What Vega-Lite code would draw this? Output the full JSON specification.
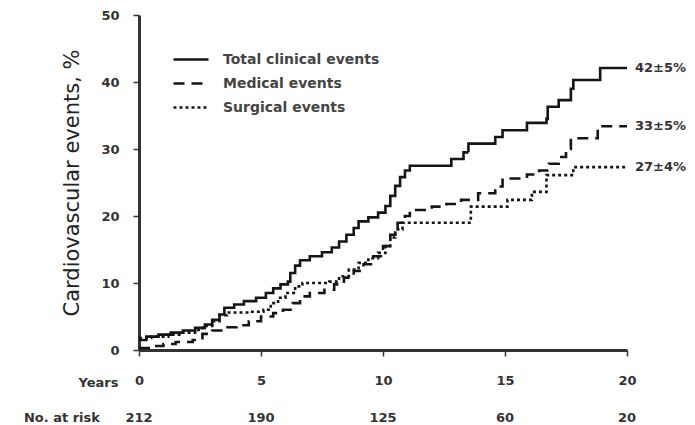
{
  "$schema": "https://vega.github.io/schema/vega-lite/v6.json",
  "width": 488,
  "height": 335,
  "autosize": "none",
  "padding": {"left": 139, "top": 15, "right": 68, "bottom": 75},
  "config": {"view": {"stroke": null}, "font": "DejaVu Sans"},
  "datasets": {
    "curves": [
      {"series": "Total clinical  events", "year": 0, "pct": 1.5},
      {"series": "Total clinical  events", "year": 0.3, "pct": 2.0},
      {"series": "Total clinical  events", "year": 0.8, "pct": 2.3},
      {"series": "Total clinical  events", "year": 1.3, "pct": 2.6},
      {"series": "Total clinical  events", "year": 1.8, "pct": 2.9},
      {"series": "Total clinical  events", "year": 2.3, "pct": 3.3},
      {"series": "Total clinical  events", "year": 2.7, "pct": 3.8},
      {"series": "Total clinical  events", "year": 3.0, "pct": 4.5},
      {"series": "Total clinical  events", "year": 3.3, "pct": 5.3},
      {"series": "Total clinical  events", "year": 3.5, "pct": 6.3},
      {"series": "Total clinical  events", "year": 3.9, "pct": 6.8},
      {"series": "Total clinical  events", "year": 4.3, "pct": 7.3},
      {"series": "Total clinical  events", "year": 4.8, "pct": 7.8},
      {"series": "Total clinical  events", "year": 5.2, "pct": 8.5},
      {"series": "Total clinical  events", "year": 5.5, "pct": 9.2},
      {"series": "Total clinical  events", "year": 5.8, "pct": 9.8},
      {"series": "Total clinical  events", "year": 6.1, "pct": 10.2},
      {"series": "Total clinical  events", "year": 6.2, "pct": 11.5},
      {"series": "Total clinical  events", "year": 6.4, "pct": 12.6},
      {"series": "Total clinical  events", "year": 6.6, "pct": 13.4},
      {"series": "Total clinical  events", "year": 7.0, "pct": 14.0},
      {"series": "Total clinical  events", "year": 7.5, "pct": 14.6},
      {"series": "Total clinical  events", "year": 7.9, "pct": 15.3},
      {"series": "Total clinical  events", "year": 8.2, "pct": 16.2},
      {"series": "Total clinical  events", "year": 8.5, "pct": 17.2},
      {"series": "Total clinical  events", "year": 8.8, "pct": 18.2},
      {"series": "Total clinical  events", "year": 9.0, "pct": 19.2},
      {"series": "Total clinical  events", "year": 9.4, "pct": 19.8},
      {"series": "Total clinical  events", "year": 9.8, "pct": 20.5},
      {"series": "Total clinical  events", "year": 10.1, "pct": 21.5},
      {"series": "Total clinical  events", "year": 10.3, "pct": 23.0},
      {"series": "Total clinical  events", "year": 10.5, "pct": 24.5},
      {"series": "Total clinical  events", "year": 10.7, "pct": 25.8},
      {"series": "Total clinical  events", "year": 10.9, "pct": 26.8},
      {"series": "Total clinical  events", "year": 11.1, "pct": 27.5},
      {"series": "Total clinical  events", "year": 12.8, "pct": 28.5},
      {"series": "Total clinical  events", "year": 13.3, "pct": 29.5},
      {"series": "Total clinical  events", "year": 13.5, "pct": 30.8},
      {"series": "Total clinical  events", "year": 14.6, "pct": 31.8},
      {"series": "Total clinical  events", "year": 14.9, "pct": 32.8},
      {"series": "Total clinical  events", "year": 15.9, "pct": 33.9},
      {"series": "Total clinical  events", "year": 16.7, "pct": 34.5},
      {"series": "Total clinical  events", "year": 16.75, "pct": 36.3},
      {"series": "Total clinical  events", "year": 17.2, "pct": 37.3},
      {"series": "Total clinical  events", "year": 17.7, "pct": 39.0},
      {"series": "Total clinical  events", "year": 17.8, "pct": 40.3},
      {"series": "Total clinical  events", "year": 18.9, "pct": 42.1},
      {"series": "Total clinical  events", "year": 20, "pct": 42.1},
      {"series": "Medical events", "year": 0, "pct": 0.3},
      {"series": "Medical events", "year": 0.5, "pct": 0.6},
      {"series": "Medical events", "year": 1.0, "pct": 0.9},
      {"series": "Medical events", "year": 1.5, "pct": 1.2},
      {"series": "Medical events", "year": 2.2, "pct": 1.5},
      {"series": "Medical events", "year": 2.6, "pct": 2.4},
      {"series": "Medical events", "year": 3.0, "pct": 2.9},
      {"series": "Medical events", "year": 3.5, "pct": 3.4},
      {"series": "Medical events", "year": 4.0, "pct": 3.7},
      {"series": "Medical events", "year": 4.5, "pct": 4.3},
      {"series": "Medical events", "year": 5.0, "pct": 5.0},
      {"series": "Medical events", "year": 5.5, "pct": 5.5},
      {"series": "Medical events", "year": 5.9, "pct": 6.0},
      {"series": "Medical events", "year": 6.3, "pct": 7.0},
      {"series": "Medical events", "year": 6.6, "pct": 8.0},
      {"series": "Medical events", "year": 7.0, "pct": 8.5},
      {"series": "Medical events", "year": 7.6, "pct": 9.0},
      {"series": "Medical events", "year": 8.0, "pct": 9.8},
      {"series": "Medical events", "year": 8.4, "pct": 10.8},
      {"series": "Medical events", "year": 8.8, "pct": 11.8},
      {"series": "Medical events", "year": 9.2, "pct": 12.8},
      {"series": "Medical events", "year": 9.6, "pct": 14.0},
      {"series": "Medical events", "year": 10.0, "pct": 15.5},
      {"series": "Medical events", "year": 10.3, "pct": 17.2},
      {"series": "Medical events", "year": 10.6, "pct": 19.0},
      {"series": "Medical events", "year": 10.9, "pct": 20.0},
      {"series": "Medical events", "year": 11.1, "pct": 20.9},
      {"series": "Medical events", "year": 12.0, "pct": 21.4},
      {"series": "Medical events", "year": 12.6, "pct": 21.8},
      {"series": "Medical events", "year": 13.2, "pct": 22.4},
      {"series": "Medical events", "year": 13.9, "pct": 23.4},
      {"series": "Medical events", "year": 14.6, "pct": 24.4},
      {"series": "Medical events", "year": 14.9, "pct": 25.6},
      {"series": "Medical events", "year": 15.9, "pct": 26.2},
      {"series": "Medical events", "year": 16.4, "pct": 26.8},
      {"series": "Medical events", "year": 16.8, "pct": 27.8},
      {"series": "Medical events", "year": 17.2, "pct": 28.8},
      {"series": "Medical events", "year": 17.5, "pct": 30.0},
      {"series": "Medical events", "year": 17.7, "pct": 31.6},
      {"series": "Medical events", "year": 18.8, "pct": 33.4},
      {"series": "Medical events", "year": 20, "pct": 33.4},
      {"series": "Surgical events", "year": 0, "pct": 1.8},
      {"series": "Surgical events", "year": 0.5, "pct": 2.0},
      {"series": "Surgical events", "year": 1.2, "pct": 2.3},
      {"series": "Surgical events", "year": 1.8, "pct": 2.6},
      {"series": "Surgical events", "year": 2.3, "pct": 3.0},
      {"series": "Surgical events", "year": 2.6, "pct": 3.6},
      {"series": "Surgical events", "year": 3.0, "pct": 4.3},
      {"series": "Surgical events", "year": 3.3, "pct": 5.2},
      {"series": "Surgical events", "year": 3.6, "pct": 5.6},
      {"series": "Surgical events", "year": 4.5, "pct": 5.7},
      {"series": "Surgical events", "year": 5.1, "pct": 6.0},
      {"series": "Surgical events", "year": 5.4, "pct": 7.0},
      {"series": "Surgical events", "year": 5.7, "pct": 7.8},
      {"series": "Surgical events", "year": 6.0, "pct": 8.5},
      {"series": "Surgical events", "year": 6.4, "pct": 9.5},
      {"series": "Surgical events", "year": 6.7, "pct": 10.0},
      {"series": "Surgical events", "year": 7.8, "pct": 10.2},
      {"series": "Surgical events", "year": 8.2, "pct": 11.0},
      {"series": "Surgical events", "year": 8.6, "pct": 12.0},
      {"series": "Surgical events", "year": 9.0, "pct": 13.0},
      {"series": "Surgical events", "year": 9.4, "pct": 13.7},
      {"series": "Surgical events", "year": 9.8, "pct": 14.5},
      {"series": "Surgical events", "year": 10.1, "pct": 15.5},
      {"series": "Surgical events", "year": 10.3, "pct": 16.8},
      {"series": "Surgical events", "year": 10.5, "pct": 18.0},
      {"series": "Surgical events", "year": 10.8, "pct": 19.0},
      {"series": "Surgical events", "year": 13.6, "pct": 21.4},
      {"series": "Surgical events", "year": 15.1, "pct": 22.4},
      {"series": "Surgical events", "year": 16.1, "pct": 23.6},
      {"series": "Surgical events", "year": 16.7, "pct": 26.1},
      {"series": "Surgical events", "year": 17.8, "pct": 27.3},
      {"series": "Surgical events", "year": 20, "pct": 27.3}
    ],
    "ends": [
      {"year": 20, "pct": 42.1, "label": "42±5%"},
      {"year": 20, "pct": 33.4, "label": "33±5%"},
      {"year": 20, "pct": 27.3, "label": "27±4%"}
    ],
    "risk": [
      {"year": 0, "n": "212"},
      {"year": 5, "n": "190"},
      {"year": 10, "n": "125"},
      {"year": 15, "n": "60"},
      {"year": 20, "n": "20"}
    ]
  },
  "layer": [
    {
      "data": {"name": "curves"},
      "mark": {"type": "line", "interpolate": "step-after", "strokeCap": "butt", "color": "#151515", "strokeWidth": 2.6},
      "encoding": {
        "x": {
          "field": "year", "type": "quantitative",
          "scale": {"domain": [0, 20], "nice": false},
          "axis": {
            "values": [0, 5, 10, 15, 20], "grid": false,
            "domainColor": "#333", "domainWidth": 3, "tickColor": "#333", "tickWidth": 1.5, "tickSize": 6,
            "labelFont": "DejaVu Sans", "labelFontSize": 13, "labelFontWeight": "bold", "labelColor": "#333",
            "labelPadding": 18, "labelFlush": false,
            "title": "Years", "titleFont": "DejaVu Sans", "titleFontSize": 13, "titleFontWeight": "bold", "titleColor": "#333",
            "titleAnchor": "start", "titleAlign": "right", "titleX": -21, "titleY": 32, "titleBaseline": "middle"
          }
        },
        "y": {
          "field": "pct", "type": "quantitative",
          "scale": {"domain": [0, 50], "nice": false},
          "axis": {
            "values": [0, 10, 20, 30, 40, 50], "grid": false,
            "domainColor": "#333", "domainWidth": 3, "tickColor": "#333", "tickWidth": 1.5, "tickSize": 6,
            "labelFont": "DejaVu Sans", "labelFontSize": 13, "labelFontWeight": "bold", "labelColor": "#333",
            "labelPadding": 14,
            "title": "Cardiovascular events, %", "titleFont": "DejaVu Sans", "titleFontSize": 21, "titleFontWeight": "normal", "titleColor": "#222",
            "titlePadding": 18
          }
        },
        "strokeDash": {
          "field": "series", "type": "nominal",
          "scale": {"domain": ["Total clinical  events", "Medical events", "Surgical events"], "range": [[1, 0], [11, 7], [3, 3]]},
          "legend": {
            "title": null, "orient": "none", "legendX": 38.5, "legendY": 31, "padding": 0,
            "symbolType": "M-1.46,0H1.46", "symbolSize": 576, "symbolStrokeWidth": 2.6, "symbolStrokeColor": "#151515",
            "labelFont": "DejaVu Sans", "labelFontSize": 14, "labelFontWeight": "bold", "labelColor": "#444",
            "labelOffset": 18.5, "rowPadding": 3, "labelLimit": 400
          }
        }
      }
    },
    {
      "data": {"name": "ends"},
      "mark": {"type": "text", "align": "left", "baseline": "middle", "dx": 8, "font": "DejaVu Sans", "fontSize": 13, "fontWeight": "bold", "color": "#333"},
      "encoding": {
        "x": {"field": "year", "type": "quantitative"},
        "y": {"field": "pct", "type": "quantitative"},
        "text": {"field": "label"}
      }
    },
    {
      "data": {"name": "risk"},
      "mark": {"type": "text", "align": "center", "baseline": "middle", "font": "DejaVu Sans", "fontSize": 13, "fontWeight": "bold", "color": "#333"},
      "encoding": {
        "x": {"field": "year", "type": "quantitative"},
        "y": {"datum": -10.1},
        "text": {"field": "n"}
      }
    },
    {
      "data": {"values": [{"year": -1.6, "label": "No. at risk"}]},
      "mark": {"type": "text", "align": "right", "baseline": "middle", "font": "DejaVu Sans", "fontSize": 13, "fontWeight": "bold", "color": "#333"},
      "encoding": {
        "x": {"field": "year", "type": "quantitative"},
        "y": {"datum": -10.1},
        "text": {"field": "label"}
      }
    }
  ]
}
